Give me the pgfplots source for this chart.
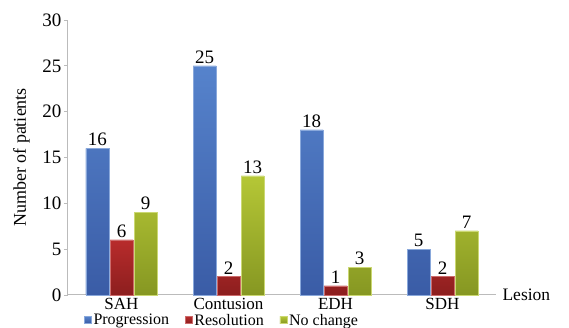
\documentclass[border=0pt]{standalone}
\usepackage{fontspec}
\setmainfont{Liberation Serif}
\usepackage{pgfplots}
\pgfplotsset{compat=1.18}
\definecolor{cblue}{HTML}{5683CC}
\definecolor{cbluedark}{HTML}{3A5CA6}
\definecolor{cred}{HTML}{B82C2C}
\definecolor{creddark}{HTML}{8C1E1E}
\definecolor{cgreen}{HTML}{B5C736}
\definecolor{cgreendark}{HTML}{869722}
\definecolor{axgray}{HTML}{BBBBBB}
\begin{document}
\begin{tikzpicture}[x=1pt,y=1pt]
\path[use as bounding box] (-68,-33) rectangle (501,295);
\begin{axis}[
  at={(0,0)}, anchor=south west,
  scale only axis, width=428pt, height=275pt,
  ymin=0, ymax=30, xmin=-0.5, xmax=3.5,
  ybar=1pt, bar width=23pt,
  axis x line*=bottom, axis y line*=left,
  axis line style={axgray, line width=1pt},
  xtick={0,1,2,3}, xticklabels={SAH,Contusion,EDH,SDH},
  major x tick style={draw=none},
  extra x ticks={0.5,1.5,2.5}, extra x tick labels={},
  extra x tick style={tick style={axgray,line width=0.8pt}, major tick length=5pt, tickwidth=5pt, xtick align=outside},
  ytick={0,5,...,30},
  ytick style={axgray, line width=0.8pt}, tick align=outside, major tick length=4pt,
  yticklabel style={font=\fontsize{19}{19}\selectfont, xshift=1pt},
  xticklabel style={font=\fontsize{17}{17}\selectfont, yshift=4pt},
  /pgf/number format/assume math mode=true,
  ylabel={Number of patients}, ylabel style={font=\fontsize{18}{18}\selectfont, yshift=6pt},
  xlabel={Lesion}, xlabel style={font=\fontsize{17.5}{17.5}\selectfont, at={(axis description cs:1,0)}, anchor=west, xshift=3pt, yshift=0pt},
  nodes near coords, nodes near coords style={font=\fontsize{19}{19}\selectfont, text=black, yshift=-1pt},
  legend style={at={(axis description cs:0.36,0)}, anchor=north, yshift=-17pt, draw=none, fill=none,
    font=\fontsize{16}{16}\selectfont, legend columns=3, /tikz/every even column/.append style={column sep=14pt},
    inner sep=0pt, outer sep=0pt},
  legend image code/.code={\fill[#1] (1pt,-3pt) rectangle (8pt,4pt);},
  clip=false,
]
\addplot[fill=cblue, draw=cblue!70!white, bottom color=cbluedark, top color=cblue] coordinates {(0,16) (1,25) (2,18) (3,5)};
\addplot[fill=cred, draw=cred!70!white, bottom color=creddark, top color=cred] coordinates {(0,6) (1,2) (2,1) (3,2)};
\addplot[fill=cgreen, draw=cgreen!70!white, bottom color=cgreendark, top color=cgreen] coordinates {(0,9) (1,13) (2,3) (3,7)};
\legend{Progression,Resolution,No change}
\end{axis}
\end{tikzpicture}
\end{document}
